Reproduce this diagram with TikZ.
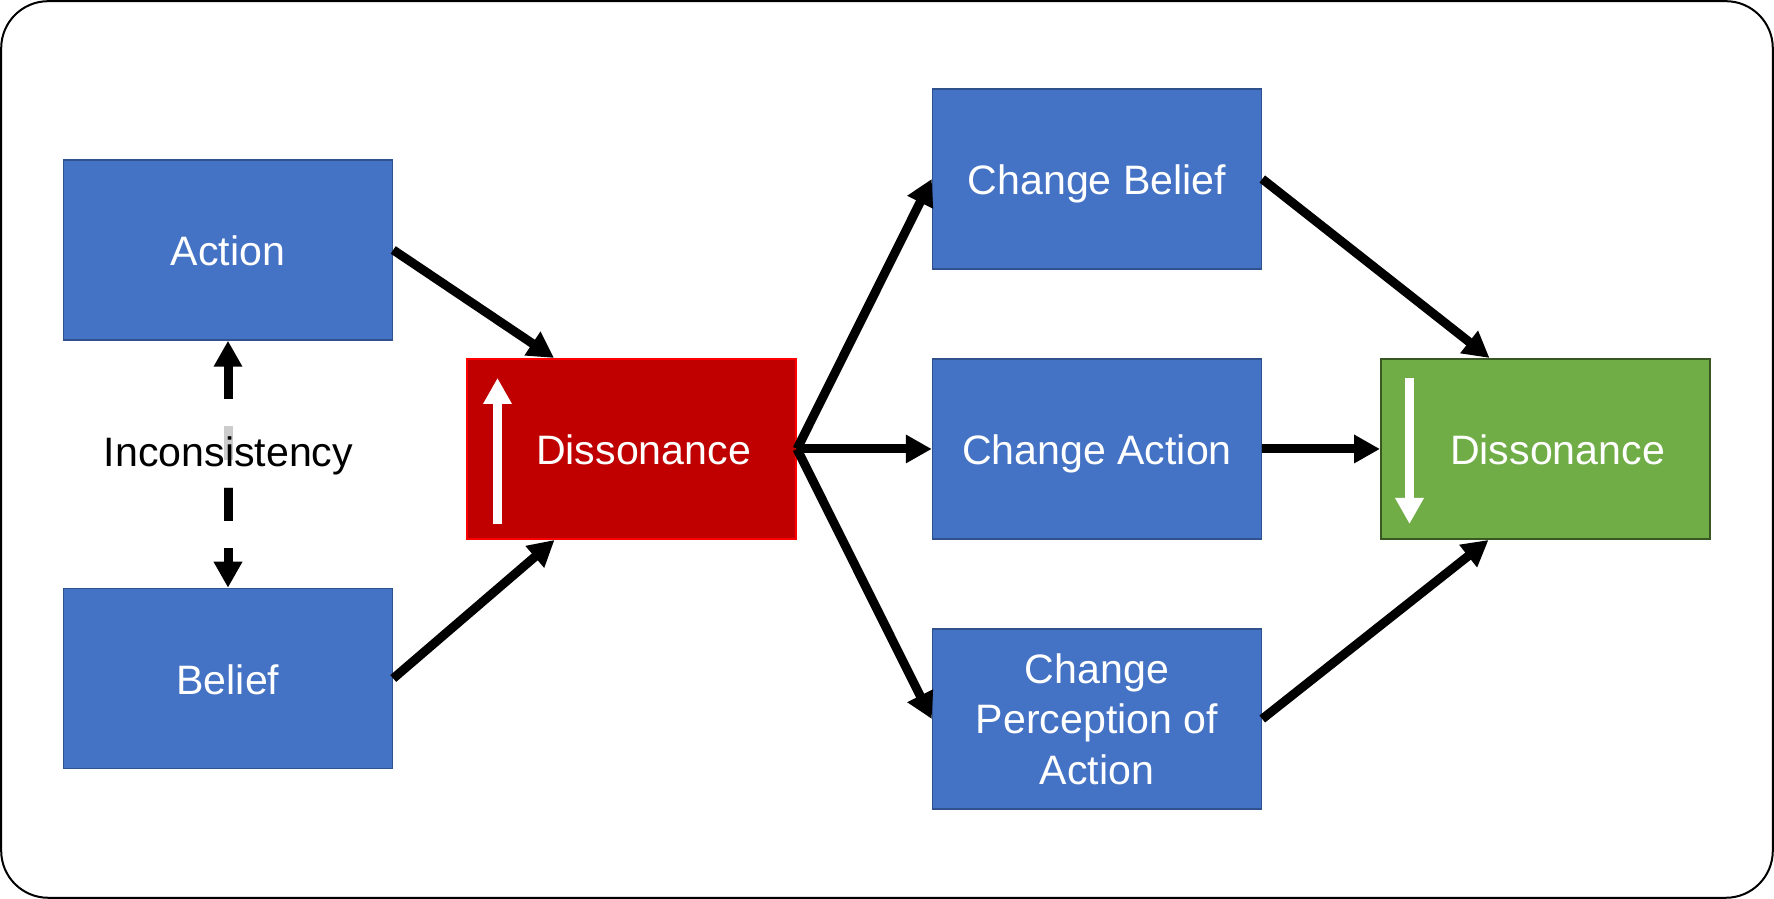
\documentclass[tikz,border=0pt]{standalone}
\usepackage{fontspec}
\setmainfont{Liberation Sans}
\usetikzlibrary{positioning}
\usetikzlibrary{arrows.meta}
\definecolor{boxblue}{HTML}{4472C4}
\definecolor{lineblue}{HTML}{2F528F}
\definecolor{boxred}{HTML}{C00000}
\definecolor{linered}{HTML}{FF0000}
\definecolor{boxgreen}{HTML}{70AD47}
\definecolor{linegreen}{HTML}{385723}
\tikzset{
    mynode/.style = {rectangle, line width=0.015cm, draw=lineblue, fill=boxblue, minimum width=3.29cm, minimum height=1.8cm, inner sep=0pt, align=center, text=white, text height=0.32cm, text depth=0pt, font=\fontsize{11.7}{14.4}\selectfont},
    mynodem/.style = {rectangle, line width=0.015cm, draw=lineblue, fill=boxblue, minimum width=3.29cm, minimum height=1.8cm, inner sep=0pt, align=center, text=white, font=\fontsize{11.7}{14.4}\selectfont},
    mynoder/.style = {rectangle, line width=0.02cm, draw=linered, fill=boxred, minimum width=3.29cm, minimum height=1.8cm, inner sep=0pt, align=center, text=white, text height=0.32cm, text depth=0pt, font=\fontsize{11.7}{14.4}\selectfont},
    mynodeg/.style = {rectangle, line width=0.02cm, draw=linegreen, fill=boxgreen, minimum width=3.29cm, minimum height=1.8cm, inner sep=0pt, align=center, text=white, text height=0.32cm, text depth=0pt, font=\fontsize{11.7}{14.4}\selectfont},
    mytext/.style = {fill=white, fill opacity=0.8, text opacity=1, inner sep=0.12cm, text height=0.29cm, text depth=0.086cm, font=\fontsize{11.7}{14.4}\selectfont},
    edgen/.style = {-{Triangle[length=0.26cm,width=0.27cm]}, line width=0.09cm, black},
    edgend/.style = {{Triangle[length=0.26cm,width=0.27cm]}-{Triangle[length=0.26cm,width=0.27cm]}, line width=0.09cm, black, dash pattern=on 0.34cm off 0.27cm}, % inconsistency
    edgew/.style = {-{Triangle[length=0.26cm,width=0.27cm]}, line width=0.085cm, white} % up / down
}

\begin{document}
\begin{tikzpicture}
\useasboundingbox (0,0) rectangle (17.74,8.99);
\draw[line width=0.02cm, rounded corners=0.47cm] (0.012,0.012) rectangle (17.728,8.978);
\node[mynode] at (2.28, 6.49) (act) {Action};
\node[mynode] at (2.28, 2.205) (bel) {Belief};
\node[mynoder] at (6.315, 4.50) (dis) {\hspace*{0.24cm}Dissonance};
\node[mynode] at (10.97, 7.20) (cb) {Change Belief};
\node[mynode] at (10.97, 4.50) (ca) {Change Action};
\node[mynodem] at (10.97, 1.80) (cp) {Change\\Perception of\\Action};
\node[mynodeg] at (15.455, 4.50) (low) {\hspace*{0.24cm}Dissonance};
\draw[edgew] ([shift={(0.315,0.16)}]dis.south west) -- ([shift={(0.315,-0.20)}]dis.north west);
\draw[edgew] ([shift={(0.295,-0.20)}]low.north west) -- ([shift={(0.295,0.16)}]low.south west);
\draw[edgend] (act.south) -- (bel.north);
\node[mytext] at (2.285, 4.422) (inc) {Inconsistency};
\draw[edgen] (act.east) -- ([xshift=-0.775cm]dis.north);
\draw[edgen] (bel.east) -- ([xshift=-0.77cm]dis.south);
\draw[edgen] (dis.east) -- (cb.west);
\draw[edgen] (dis.east) -- (ca.west);
\draw[edgen] (dis.east) -- (cp.west);
\draw[edgen] (cb.east) -- ([xshift=-0.56cm]low.north);
\draw[edgen] (ca.east) -- (low.west);
\draw[edgen] (cp.east) -- ([xshift=-0.57cm]low.south);
\end{tikzpicture}
\end{document}
